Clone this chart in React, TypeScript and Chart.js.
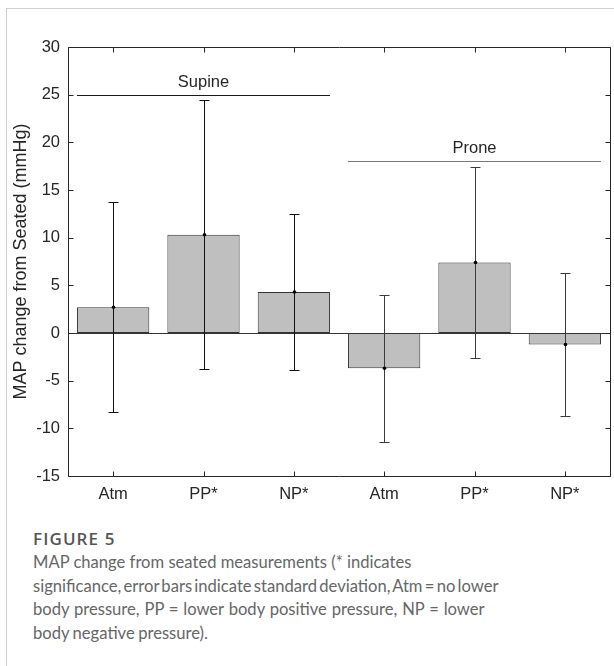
import React, { useEffect, useRef } from 'react';
import { Chart, registerables } from 'chart.js';

Chart.register(...registerables);

// ---- data ----
const categories = ['Atm', 'PP*', 'NP*', 'Atm', 'PP*', 'NP*'];
const meanChange = [2.7, 10.3, 4.3, -3.7, 7.4, -1.2];
const sdChange = [11.0, 14.1, 8.2, 7.7, 10.0, 7.5];
const yMin = -15;
const yMax = 30;
const yStep = 5;
const groupLabels = ['Supine', 'Prone'];
const groupLevels = [25, 18];
const groupFirst = [0, 3];
const groupLast = [2, 5];

const yTitle = 'MAP change from Seated (mmHg)';
const figureLabel = 'FIGURE 5';
const captionLines = [
  'MAP change from seated measurements (* indicates',
  'significance, error bars indicate standard deviation, Atm = no lower',
  'body pressure, PP = lower body positive pressure, NP = lower',
  'body negative pressure).',
];

const FONT = "'Liberation Sans', Arial, Helvetica, sans-serif";
const AXIS_COLOR = '#262626';
const GROUP_LINE_COLORS = ['#1a1a1a', '#767676'];
const ERR_COLORS = ['#111111', '#3a3a3a'];
const CAPTION_WORD_SPACING = ['0px', '-2px', '0.6px', '-0.8px'];

const annotPlugin = {
  id: 'annot',
  afterDatasetsDraw(chart: any) {
    const { ctx, chartArea: a, scales } = chart;
    const x = scales.x;
    const y = scales.y;
    const meta = chart.getDatasetMeta(0);
    const r = (v: number) => Math.round(v) + 0.5;
    ctx.save();

    // zero line
    ctx.strokeStyle = '#333333';
    ctx.lineWidth = 1;
    const y0 = r(y.getPixelForValue(0));
    ctx.beginPath();
    ctx.moveTo(a.left, y0);
    ctx.lineTo(a.right, y0);
    ctx.stroke();

    // error bars and mean dots
    meanChange.forEach((m, i) => {
      const g = i < groupFirst[1] ? 0 : 1;
      const px = r(x.getPixelForValue(i));
      const top = r(y.getPixelForValue(m + sdChange[i]));
      const bot = r(y.getPixelForValue(m - sdChange[i]));
      const mid = y.getPixelForValue(m);
      ctx.strokeStyle = ERR_COLORS[g];
      ctx.lineWidth = 1;
      ctx.beginPath();
      ctx.moveTo(px, top);
      ctx.lineTo(px, bot);
      ctx.moveTo(px - 5, top);
      ctx.lineTo(px + 5, top);
      ctx.moveTo(px - 5, bot);
      ctx.lineTo(px + 5, bot);
      ctx.stroke();
      ctx.fillStyle = '#000000';
      ctx.beginPath();
      ctx.arc(px, mid, 1.8, 0, Math.PI * 2);
      ctx.fill();
    });

    // group lines and labels
    groupLabels.forEach((lab, g) => {
      const b0 = meta.data[groupFirst[g]] as any;
      const b1 = meta.data[groupLast[g]] as any;
      const xl = b0.x - b0.width / 2;
      const xr = b1.x + b1.width / 2;
      const gy = r(y.getPixelForValue(groupLevels[g]));
      ctx.strokeStyle = GROUP_LINE_COLORS[g];
      ctx.lineWidth = 1;
      ctx.beginPath();
      ctx.moveTo(xl, gy);
      ctx.lineTo(xr, gy);
      ctx.stroke();
      ctx.fillStyle = AXIS_COLOR;
      ctx.font = `16.5px ${FONT}`;
      ctx.textAlign = 'center';
      ctx.textBaseline = 'middle';
      ctx.fillText(lab, (xl + xr) / 2, gy - 13);
    });

    // box
    ctx.strokeStyle = AXIS_COLOR;
    ctx.lineWidth = 1;
    const L = r(a.left), R = r(a.right), T = r(a.top), B = r(a.bottom);
    ctx.beginPath();
    ctx.rect(L, T, R - L, B - T);
    ctx.stroke();

    // inward ticks
    ctx.beginPath();
    y.ticks.forEach((t: any) => {
      const ty = r(y.getPixelForValue(t.value));
      ctx.moveTo(L, ty);
      ctx.lineTo(L + 5, ty);
      ctx.moveTo(R, ty);
      ctx.lineTo(R - 5, ty);
    });
    categories.forEach((_, i) => {
      const tx = r(x.getPixelForValue(i));
      ctx.moveTo(tx, B);
      ctx.lineTo(tx, B - 5);
      ctx.moveTo(tx, T);
      ctx.lineTo(tx, T + 5);
    });
    ctx.stroke();

    ctx.restore();
  },
};

export default function App() {
  const ref = useRef<HTMLCanvasElement | null>(null);

  useEffect(() => {
    if (!ref.current) return;
    const chart = new Chart(ref.current, {
      type: 'bar',
      data: {
        labels: categories,
        datasets: [
          {
            data: meanChange,
            backgroundColor: '#bfbfbf',
            borderColor: '#333333',
            borderWidth: 1,
            borderSkipped: false,
            barPercentage: 0.8,
            categoryPercentage: 1,
          },
        ],
      },
      options: {
        responsive: false,
        animation: false,
        devicePixelRatio: 1,
        layout: { padding: { top: 47, right: 4, bottom: 4, left: 0 } },
        plugins: {
          legend: { display: false },
          tooltip: { enabled: false },
          title: { display: false },
        },
        scales: {
          x: {
            grid: { display: false, drawTicks: false },
            border: { display: false },
            ticks: {
              color: AXIS_COLOR,
              font: { family: FONT, size: 16.5 },
              padding: 9,
              maxRotation: 0,
              autoSkip: false,
            },
            afterFit: (s: any) => {
              s.height = 40;
            },
          },
          y: {
            min: yMin,
            max: yMax,
            grid: { display: false, drawTicks: false },
            border: { display: false },
            ticks: {
              stepSize: yStep,
              color: AXIS_COLOR,
              font: { family: FONT, size: 16.5 },
              padding: 8,
            },
            title: {
              display: true,
              text: yTitle,
              color: AXIS_COLOR,
              font: { family: FONT, size: 18 },
              padding: { top: 10, bottom: 0 },
            },
            afterFit: (s: any) => {
              s.width = 68;
            },
          },
        },
      },
      plugins: [annotPlugin],
    });
    return () => chart.destroy();
  }, []);

  return (
    <div
      style={{
        position: 'absolute',
        left: 0,
        top: 0,
        width: 614,
        height: 666,
        overflow: 'hidden',
        background: '#ffffff',
      }}
    >
      <div
        style={{
          position: 'absolute',
          left: 6,
          top: 8,
          width: 608,
          height: 658,
          borderLeft: '1px solid #cfcfcf',
          borderTop: '1px solid #cfcfcf',
          boxSizing: 'border-box',
        }}
      />
      <canvas
        ref={ref}
        width={614}
        height={520}
        style={{ position: 'absolute', left: 0, top: 0, width: 614, height: 520 }}
      />
      <div
        style={{
          position: 'absolute',
          left: 33,
          top: 527,
          whiteSpace: 'nowrap',
        }}
      >
        <div
          style={{
            fontFamily: "'Open Sans', 'Noto Sans', sans-serif",
            fontSize: 17,
            fontWeight: 600,
            lineHeight: '24px',
            letterSpacing: '1.1px',
            color: '#555555',
          }}
        >
          {figureLabel}
        </div>
        {captionLines.map((line, i) => (
          <div
            key={i}
            style={{
              fontFamily: "Lato, 'Open Sans', sans-serif",
              fontSize: 16.6,
              lineHeight: '23.5px',
              wordSpacing: CAPTION_WORD_SPACING[i],
              color: '#666666',
            }}
          >
            {line}
          </div>
        ))}
      </div>
    </div>
  );
}
